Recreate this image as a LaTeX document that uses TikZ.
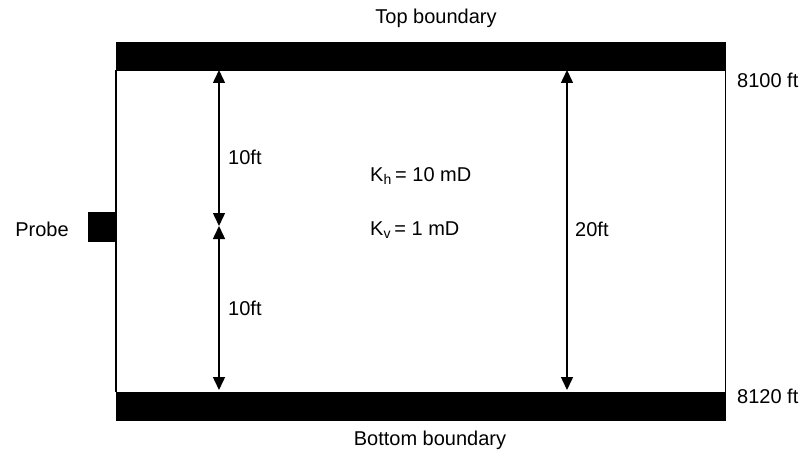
\documentclass[tikz,border=0pt]{standalone}
\usepackage{fontspec}
\setmainfont{Liberation Sans}
\usetikzlibrary{arrows.meta}
\begin{document}
\begin{tikzpicture}[x=1pt,y=-1pt,
  lbl/.style={font=\fontsize{20}{22}\selectfont, inner sep=0pt},
  bar/.style={fill=black, draw=black},
  wall/.style={line width=1.5pt},
  dim/.style={line width=1.5pt, {Triangle[length=13pt,width=12pt]}-{Triangle[length=13pt,width=12pt]}}]
\useasboundingbox[fill=white] (0,0) rectangle (810,457);
% bars
\node[bar, minimum width=609pt, minimum height=28pt, inner sep=0pt, anchor=north west] (topbar) at (116,42) {};
\node[bar, minimum width=609pt, minimum height=28pt, inner sep=0pt, anchor=north west] (botbar) at (116,392) {};
\draw[wall] (topbar.south west) -- (botbar.north west);
\draw[wall] (topbar.south east) -- (botbar.north east);
% probe
\node[bar, minimum width=28pt, minimum height=29pt, inner sep=0pt, anchor=north west] (probe) at (88,212) {};
\node[lbl] (probelbl) at (42,229) {Probe};
% dimension points
\coordinate (a1) at (219,70);
\coordinate (a2) at (219,226);
\coordinate (a3) at (219,390);
\coordinate (b1) at (567,70);
\coordinate (b2) at (567,390);
\draw[dim] (a1) -- (a2);
\draw[dim] (a2) -- (a3);
\draw[dim] (b1) -- (b2);
% labels
\node[lbl, anchor=west] (l1) at (228,157) {10ft};
\node[lbl, anchor=west] (l2) at (228,308) {10ft};
\node[lbl, anchor=west] (l3) at (575,229) {20ft};
\node[lbl, anchor=west] (kh) at (370,176) {K\textsubscript{h}\,= 10 mD};
\node[lbl, anchor=west] (kv) at (370,230) {K\textsubscript{v}\,= 1 mD};
\node[lbl] (top) at (436,18) {Top boundary};
\node[lbl] (bot) at (430,440) {Bottom boundary};
\node[lbl, anchor=west] (d1) at (737,80) {8100 ft};
\node[lbl, anchor=west] (d2) at (737,396) {8120 ft};
\end{tikzpicture}
\end{document}
